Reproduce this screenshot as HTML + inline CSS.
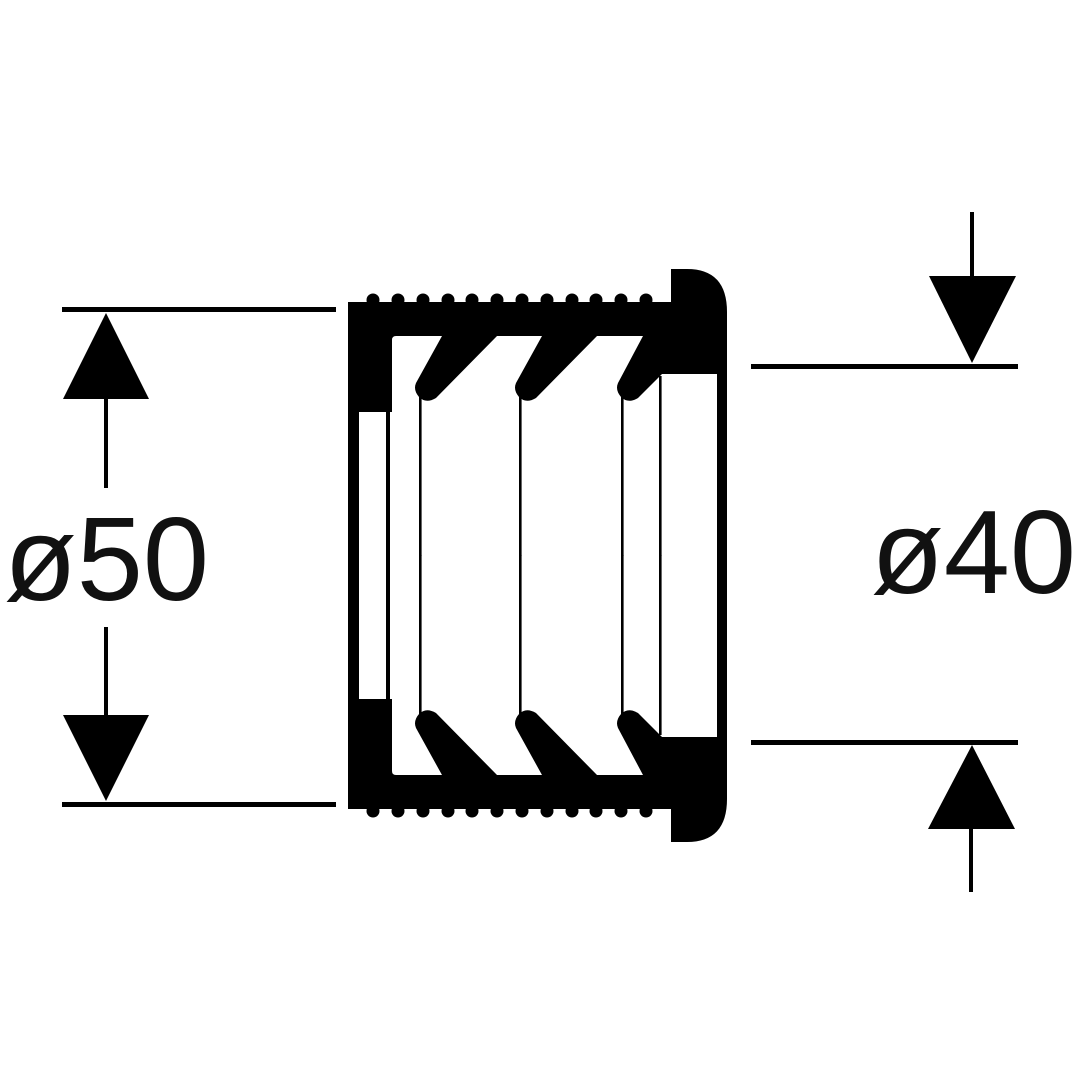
<!DOCTYPE html>
<html><head><meta charset="utf-8"><style>
html,body{margin:0;padding:0;background:#fff;}
svg{display:block;}
text{font-family:"Liberation Sans",sans-serif;fill:#111;}
</style></head><body>
<svg width="1080" height="1080" viewBox="0 0 1080 1080" xmlns="http://www.w3.org/2000/svg">
<rect width="1080" height="1080" fill="#fff"/>
<g id="half">
  <path fill="#000" d="M348,302 H671 V269 H687 Q727,269 727,312 V556 H717 V374 H662 L660,376 L638,398
    Q628,404 621,397 Q615,390 618,383 L643,336 H597 L536,398 Q526,404 519,397 Q513,390 516,383 L542,336 H497 L436,398
    Q426,404 419,397 Q413,390 416,383 L442,336 H396 Q392,336 392,340 V412 H359 V556 H348 Z"/>
  <g fill="#000">
    <circle cx="373" cy="300" r="6.5"/><circle cx="398" cy="300" r="6.5"/><circle cx="423" cy="300" r="6.5"/>
    <circle cx="448" cy="300" r="6.5"/><circle cx="472" cy="300" r="6.5"/><circle cx="497" cy="300" r="6.5"/>
    <circle cx="522" cy="300" r="6.5"/><circle cx="547" cy="300" r="6.5"/><circle cx="572" cy="300" r="6.5"/>
    <circle cx="596" cy="300" r="6.5"/><circle cx="621" cy="300" r="6.5"/><circle cx="646" cy="300" r="6.5"/>
  </g>
  <rect x="386" y="410" width="4" height="146" fill="#000"/>
  <rect x="419" y="395" width="2.6" height="161" fill="#000"/>
  <rect x="519" y="395" width="2.6" height="161" fill="#000"/>
  <rect x="621" y="395" width="2.6" height="161" fill="#000"/>
  <rect x="659" y="376" width="2.6" height="180" fill="#000"/>
</g>
<use href="#half" transform="translate(0,1111) scale(1,-1)"/>

<!-- left dimension -->
<rect x="62" y="307" width="274" height="5" fill="#000"/>
<rect x="62" y="802" width="274" height="5" fill="#000"/>
<polygon points="106,313 63,399 149,399" fill="#000"/>
<rect x="104" y="398" width="4" height="90" fill="#000"/>
<polygon points="106,801 63,715 149,715" fill="#000"/>
<rect x="104" y="627" width="4" height="89" fill="#000"/>
<text x="4" y="600" font-size="119">ø50</text>

<!-- right dimension -->
<rect x="751" y="364" width="267" height="5" fill="#000"/>
<rect x="751" y="740" width="267" height="5" fill="#000"/>
<polygon points="972,363 929,276 1016,276" fill="#000"/>
<rect x="970" y="212" width="4" height="65" fill="#000"/>
<polygon points="972,745 928,829 1015,829" fill="#000"/>
<rect x="969" y="828" width="4" height="64" fill="#000"/>
<text x="871" y="593" font-size="119">ø40</text>
</svg>
</body></html>
